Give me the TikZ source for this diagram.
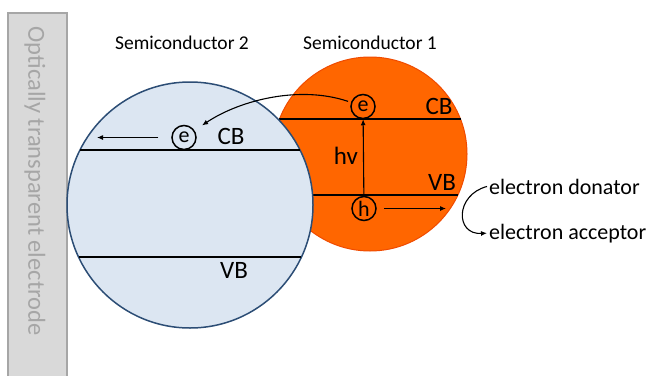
\documentclass[tikz,border=0pt]{standalone}
\usepackage{fontspec}
\setmainfont{Carlito}
\usetikzlibrary{arrows.meta,positioning}
\definecolor{bluefill}{HTML}{DCE6F2}
\definecolor{blueedge}{HTML}{2C4D75}
\definecolor{orfill}{HTML}{FF6600}
\definecolor{oredge}{HTML}{F04B00}
\definecolor{glass}{HTML}{D9D9D9}
\definecolor{glassedge}{HTML}{A6A6A6}
\newcommand{\fs}[1]{\fontsize{#1}{#1}\selectfont}

\begin{document}
\begin{tikzpicture}[x=1pt,y=-1pt,
  band/.style={line width=2.8pt},
  ar/.style={-{Latex[length=6pt,width=5pt]},line width=1.1pt},
  carrier/.style={draw,circle,line width=1.5pt,inner sep=0pt,minimum size=24pt,font=\fs{22}},
  lbl/.style={font=\fs{25}},
  ttl/.style={font=\fs{19.5},anchor=base},
  side/.style={font=\fs{22},anchor=base west,inner sep=2pt}]
\useasboundingbox (0,0) rectangle (650,375);
\draw[glassedge,fill=glass,line width=1.5pt] (8,13) rectangle (67,390);
\node[rotate=-90,text=glassedge,font=\fs{24.5}] (elec) at (35,181) {Optically transparent electrode};
\node[circle,draw=oredge,fill=orfill,line width=1pt,minimum size=194pt] (sc1) at (370,154) {};
\draw[band] (279,119) -- (461,119);
\draw[band] (282,195) -- (458,195);
\node[circle,draw=blueedge,fill=bluefill,line width=1.5pt,minimum size=246pt] (sc2) at (190,205) {};
\draw[band] (80,150) -- (300,150);
\draw[band] (79,257) -- (301,257);
\node[ttl] (t2) at (182,49) {Semiconductor 2};
\node[ttl] (t1) at (370,49) {Semiconductor 1};
\node[lbl] (cb2) at (231,136) {CB};
\node[lbl] (vb2) at (234,270) {VB};
\node[lbl] (cb1) at (439,106) {CB};
\node[lbl] (vb1) at (442,182) {VB};
\node[lbl] (hv) at (346,156) {hv};
\node[carrier] (e1) at (363,106.5) {e};
\node[carrier] (h1) at (364,208.5) {h};
\node[carrier] (e2) at (184,137.5) {e};
\node[side] (don) at (487,194) {electron donator};
\node[side] (acc) at (487,239) {electron acceptor};
\coordinate (hr) at (446,208.5);
\coordinate (el) at (97,137.5);
\draw[ar] (h1) -- (e1);
\draw[ar,shorten <=7pt] (h1) -- (hr);
\draw[ar,shorten <=13pt] (e2) -- (el);
\draw[ar,shorten <=3pt,shorten >=9pt] (e1) .. controls (300,85) and (240,100) .. (e2);
\draw[ar] (don.west) .. controls (455,195) and (455,235) .. (acc.west);
\end{tikzpicture}
\end{document}
